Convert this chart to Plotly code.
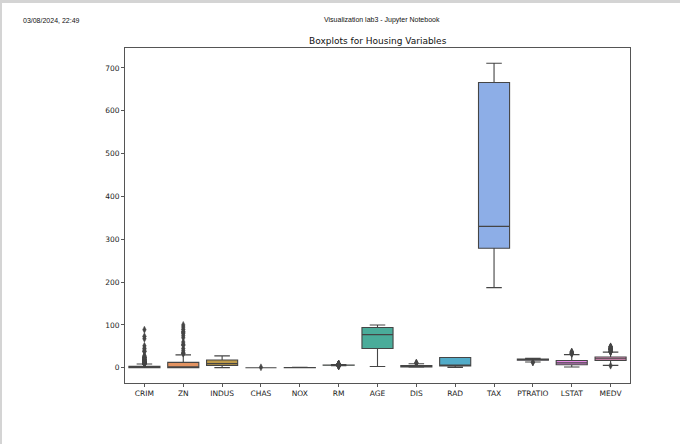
import math
import colorsys
import plotly.graph_objects as go

# ---------------- data ----------------
categories = ["CRIM", "ZN", "INDUS", "CHAS", "NOX", "RM", "AGE", "DIS",
              "RAD", "TAX", "PTRATIO", "LSTAT", "MEDV"]
whisker_low = [0.00632, 0.0, 0.46, 0.0, 0.385, 4.880, 2.9, 1.1296, 1.0, 187.0, 13.6, 1.73, 5.6]
q1_vals = [0.08204, 0.0, 5.19, 0.0, 0.449, 5.8855, 45.025, 2.100, 4.0, 279.0, 17.4, 6.95, 17.025]
median_vals = [0.25651, 0.0, 9.69, 0.0, 0.538, 6.2085, 77.5, 3.207, 5.0, 330.0, 19.05, 11.36, 21.2]
q3_vals = [3.67708, 12.5, 18.10, 0.0, 0.624, 6.6235, 94.075, 5.188, 24.0, 666.0, 20.2, 16.955, 25.0]
whisker_high = [8.98296, 30.0, 27.74, 0.0, 0.871, 7.691, 100.0, 9.2229, 24.0, 711.0, 22.0, 30.81, 36.5]

crim_out = [9.18702, 9.2323, 9.33889, 9.39063, 9.51363, 9.59571, 9.72418, 9.82349,
            9.91655, 9.92485, 9.96654, 10.0623, 10.233, 10.6718, 10.8342, 11.0874,
            11.1081, 11.5779, 11.8123, 11.9511, 12.0482, 12.2472, 12.8023, 13.0751,
            13.3598, 13.5222, 13.6781, 13.9134, 14.0507, 14.2362, 14.3337, 14.4208,
            15.0234, 15.1772, 15.288, 15.5757, 15.8603, 15.8744, 16.8118, 17.8667,
            18.0846, 18.4982, 18.811, 19.6091, 20.0849, 20.7162, 22.0511, 22.5971,
            23.6482, 24.3938, 24.8017, 25.0461, 25.9406, 28.6558, 37.6619, 38.3518,
            41.5292, 45.7461, 51.1358, 67.9208, 73.5341, 88.9762]
zn_out = [33, 34, 35, 40, 45, 52.5, 55, 60, 70, 75, 80, 82.5, 85, 90, 95, 100]
indus_out = []
chas_out = [1]
nox_out = []
rm_out = [3.561, 3.863, 4.138, 4.368, 4.519, 4.628, 4.652, 7.765, 7.802, 7.820,
          7.853, 7.875, 7.923, 7.929, 8.034, 8.040, 8.069, 8.247, 8.259, 8.266,
          8.297, 8.337, 8.375, 8.398, 8.704, 8.725, 8.780]
age_out = []
dis_out = [10.5857, 10.7103, 12.1265]
rad_out = []
tax_out = []
ptratio_out = [12.6, 13.0]
lstat_out = [31.99, 34.02, 34.37, 34.41, 34.77, 36.98, 37.97]
medv_out = [5.0, 37.0, 37.2, 37.3, 37.6, 37.9, 38.7, 39.8, 41.3, 41.7, 42.3, 42.8,
            43.1, 43.5, 43.8, 44.0, 44.8, 45.4, 46.0, 46.7, 48.3, 48.5, 48.8, 50.0]
outliers = [crim_out, zn_out, indus_out, chas_out, nox_out, rm_out, age_out,
            dis_out, rad_out, tax_out, ptratio_out, lstat_out, medv_out]

y_ticks = [0, 100, 200, 300, 400, 500, 600, 700]

# ---------------- seaborn-like husl palette ----------------
_m = [[3.2406, -1.5372, -0.4986],
      [-0.9689, 1.8758, 0.0415],
      [0.0557, -0.2040, 1.0570]]
_refU, _refV = 0.19784, 0.46834
_lab_e, _lab_k = 0.008856, 903.3


def _max_chroma(L, H):
    hrad = math.radians(H)
    sinH, cosH = math.sin(hrad), math.cos(hrad)
    sub1 = (L + 16) ** 3 / 1560896.0
    sub2 = sub1 if sub1 > _lab_e else L / _lab_k
    result = float("inf")
    for m1, m2, m3 in _m:
        top = (0.99915 * m1 + 1.05122 * m2 + 1.14460 * m3) * sub2
        rbottom = 0.86330 * m3 - 0.17266 * m2
        lbottom = 0.12949 * m3 - 0.38848 * m1
        bottom = (rbottom * sinH + lbottom * cosH) * sub2
        for t in (0.0, 1.0):
            C = L * (top - 1.05122 * t) / (bottom + 0.17266 * sinH * t)
            if 0.0 < C < result:
                result = C
    return result


def _husl_to_rgb(H, S, L):
    C = _max_chroma(L, H) / 100.0 * S
    hr = math.radians(H)
    U, V = math.cos(hr) * C, math.sin(hr) * C
    t = (L + 16) / 116.0
    Y = t ** 3 if t ** 3 > _lab_e else (116 * t - 16) / _lab_k
    varU = U / (13.0 * L) + _refU
    varV = V / (13.0 * L) + _refV
    X = 0.0 - (9.0 * Y * varU) / ((varU - 4.0) * varV - varU * varV)
    Z = (9.0 * Y - (15.0 * varV * Y) - (varV * X)) / (3.0 * varV)
    out = []
    for row in _m:
        c = row[0] * X + row[1] * Y + row[2] * Z
        c = 12.92 * c if c <= 0.0031308 else 1.055 * c ** (1 / 2.4) - 0.055
        out.append(min(max(c, 0.0), 1.0))
    return out


n = len(categories)
cols = []
for i in range(n):
    h = ((i / n + 0.01) % 1) * 359
    r, g, b = _husl_to_rgb(h, 0.9 * 99, 0.7 * 99)
    hh, ll, ss = colorsys.rgb_to_hls(r, g, b)
    cols.append(colorsys.hls_to_rgb(hh, ll, ss * 0.75))
lum = min(colorsys.rgb_to_hls(*c)[1] for c in cols) * 0.6
gray = "rgb(%d,%d,%d)" % ((round(lum * 255),) * 3)
fills = ["rgb(%d,%d,%d)" % tuple(round(v * 255) for v in c) for c in cols]

# ---------------- figure ----------------
fig = go.Figure()
for i, cat in enumerate(categories):
    fig.add_trace(go.Box(
        x=[cat], q1=[q1_vals[i]], median=[median_vals[i]], q3=[q3_vals[i]],
        lowerfence=[whisker_low[i]], upperfence=[whisker_high[i]],
        boxpoints=False, width=0.8, whiskerwidth=0.5,
        fillcolor=fills[i], line=dict(color=gray, width=1.1),
        showlegend=False, hoverinfo="skip"))
for i, cat in enumerate(categories):
    if outliers[i]:
        fig.add_trace(go.Scatter(
            x=[cat] * len(outliers[i]), y=outliers[i], mode="markers",
            marker=dict(symbol="diamond-tall", size=5, color=gray,
                        line=dict(color=gray, width=0.5)),
            showlegend=False, hoverinfo="skip"))

W, H = 680, 444
ml, mr, mt, mb = 125, 50, 48, 61
pw, ph = W - ml - mr, H - mt - mb


def px(x):
    return (x - ml) / pw


def py(y):
    return (H - mb - y) / ph


fig.update_layout(
    width=W, height=H,
    margin=dict(l=ml, r=mr, t=mt, b=mb, pad=0),
    paper_bgcolor="white", plot_bgcolor="white",
    boxmode="overlay",
    font=dict(family="DejaVu Sans", size=7.5, color="#222"),
    xaxis=dict(type="category", categoryorder="array", categoryarray=categories,
               range=[-0.5, n - 0.5], showgrid=False, zeroline=False,
               showline=True, mirror=True, linecolor="#555", linewidth=1,
               ticks="outside", ticklen=3, tickcolor="#555", tickwidth=1,
               tickfont=dict(family="DejaVu Sans", size=7.5, color="#222")),
    yaxis=dict(range=[-35.55, 746.55], tickvals=y_ticks, showgrid=False,
               zeroline=False, showline=True, mirror=True, linecolor="#555",
               linewidth=1, ticks="outside", ticklen=3, tickcolor="#555",
               tickwidth=1,
               tickfont=dict(family="DejaVu Sans", size=7.5, color="#222")),
    shapes=[
        dict(type="rect", xref="paper", yref="paper", x0=px(0), x1=px(W),
             y0=py(0), y1=py(3), fillcolor="#d4d4d4", line=dict(width=0)),
        dict(type="rect", xref="paper", yref="paper", x0=px(0), x1=px(2),
             y0=py(0), y1=py(H), fillcolor="#d4d4d4", line=dict(width=0)),
    ],
    annotations=[
        dict(text="Boxplots for Housing Variables", xref="paper", yref="paper",
             x=0.5, y=py(41), xanchor="center", yanchor="middle",
             showarrow=False, font=dict(family="DejaVu Sans", size=9, color="#111")),
        dict(text="03/08/2024, 22:49", xref="paper", yref="paper",
             x=px(21), y=py(20), xanchor="left", yanchor="middle",
             showarrow=False, font=dict(family="Liberation Sans", size=7, color="#111")),
        dict(text="Visualization lab3 - Jupyter Notebook", xref="paper", yref="paper",
             x=px(382), y=py(20), xanchor="center", yanchor="middle",
             showarrow=False, font=dict(family="Liberation Sans", size=7, color="#111")),
    ],
)

fig.write_html("out.html")
